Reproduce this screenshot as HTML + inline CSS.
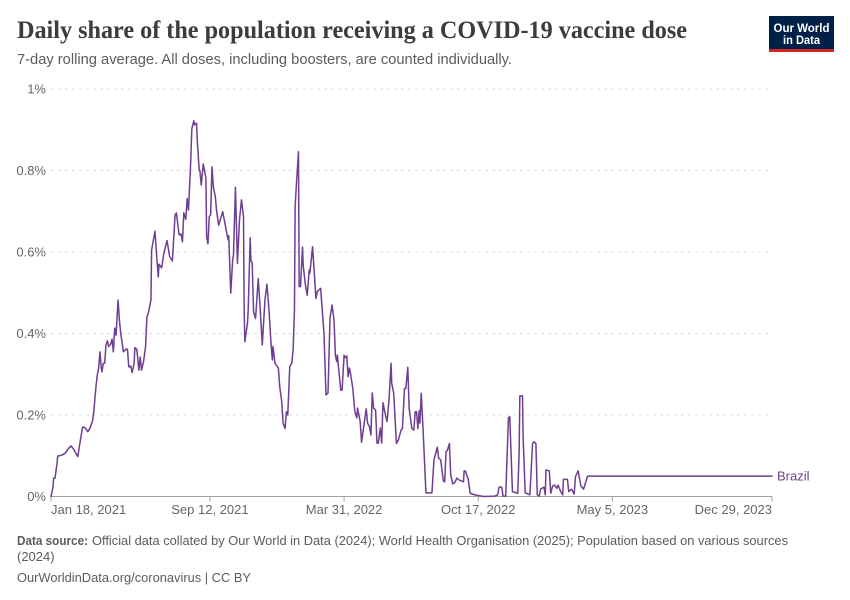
<!DOCTYPE html>
<html lang="en">
<head>
<meta charset="utf-8">
<title>Daily share of the population receiving a COVID-19 vaccine dose</title>
<style>
html,body{margin:0;padding:0;background:#fff;}
svg{display:block;font-family:"Liberation Sans",sans-serif;}
</style>
</head>
<body>
<svg id="chart" xmlns="http://www.w3.org/2000/svg" width="850" height="600" viewBox="0 0 850 600">
  <rect x="0" y="0" width="850" height="600" fill="#ffffff"/>
  <text x="17" y="38" font-family="'Liberation Serif',serif" font-weight="700" font-size="25" fill="#3c3c3c" textLength="670" lengthAdjust="spacingAndGlyphs">Daily share of the population receiving a COVID-19 vaccine dose</text>
  <text x="17" y="64" font-size="14.5" fill="#5b5b5b" textLength="495" lengthAdjust="spacingAndGlyphs">7-day rolling average. All doses, including boosters, are counted individually.</text>

  <g>
    <rect x="769" y="16" width="65" height="36" fill="#002147"/>
    <rect x="769" y="49" width="65" height="3" fill="#ce261e"/>
    <text x="801.5" y="32" font-size="12" font-weight="700" fill="#ffffff" text-anchor="middle" textLength="56" lengthAdjust="spacingAndGlyphs">Our World</text>
    <text x="801.5" y="44" font-size="12" font-weight="700" fill="#ffffff" text-anchor="middle" textLength="37" lengthAdjust="spacingAndGlyphs">in Data</text>
  </g>

  <g id="grid"></g>
  <g id="y-axis"></g>
  <g id="x-axis"></g>
  <path id="series-line" fill="none" stroke="#6d3e91" stroke-width="1.5" stroke-linejoin="round" stroke-linecap="round"></path>
  <text id="series-label" x="777" y="481" font-size="13" fill="#6d3e91">Brazil</text>

  <text x="17" y="545" font-size="13" font-weight="700" fill="#5b5b5b" textLength="71" lengthAdjust="spacingAndGlyphs">Data source:</text>
  <text x="92" y="545" font-size="13" fill="#5b5b5b" textLength="696" lengthAdjust="spacingAndGlyphs">Official data collated by Our World in Data (2024); World Health Organisation (2025); Population based on various sources</text>
  <text x="17" y="561" font-size="13" fill="#5b5b5b">(2024)</text>
  <text x="17" y="582" font-size="13" fill="#5b5b5b" textLength="234" lengthAdjust="spacingAndGlyphs">OurWorldinData.org/coronavirus | CC BY</text>
</svg>
<script>
// Days since Jan 18, 2021
const seriesDays = [0,3,4,6,9,10,17,21,26,30,33,40,43,47,50,55,58,62,64,67,69,71,73,75,76,78,80,82,84,86,89,91,93,95,97,100,102,104,108,112,114,116,119,121,124,125,128,131,133,135,138,141,143,145,149,150,155,158,160,161,165,168,173,177,181,185,187,191,194,196,198,201,203,205,208,210,213,214,217,218,221,222,224,227,231,232,234,236,238,240,242,245,247,250,256,261,264,265,268,271,272,275,278,281,284,287,288,289,293,294,297,298,300,302,305,309,312,315,319,322,325,328,330,331,334,339,341,344,346,349,351,353,356,359,361,363,364,366,369,370,372,375,376,379,382,385,386,390,395,397,402,405,407,410,413,416,419,422,424,426,427,432,434,437,438,441,443,445,447,450,453,456,457,461,463,467,470,472,475,477,479,481,484,486,488,491,493,495,498,501,504,507,508,511,515,518,522,524,527,529,532,534,538,541,543,545,547,549,550,552,555,559,568,571,576,578,581,585,587,589,591,594,596,599,602,605,609,615,616,618,622,625,632,645,662,666,668,672,674,678,682,684,688,696,698,699,703,704,707,714,718,720,723,725,728,730,735,737,738,743,745,748,751,754,756,760,763,764,770,772,776,780,782,786,790,794,800,1075];
// Daily doses, % of population
const seriesValues = [0,0.024,0.045,0.045,0.082,0.099,0.102,0.106,0.118,0.124,0.118,0.098,0.13,0.17,0.17,0.159,0.167,0.186,0.212,0.269,0.298,0.315,0.355,0.315,0.306,0.327,0.327,0.372,0.382,0.368,0.374,0.386,0.355,0.413,0.396,0.482,0.433,0.4,0.355,0.362,0.361,0.318,0.32,0.304,0.327,0.365,0.361,0.31,0.342,0.31,0.331,0.368,0.441,0.449,0.482,0.605,0.651,0.58,0.539,0.57,0.561,0.595,0.628,0.588,0.578,0.691,0.696,0.642,0.644,0.625,0.696,0.68,0.731,0.703,0.809,0.903,0.922,0.912,0.916,0.877,0.8,0.8,0.764,0.816,0.781,0.638,0.62,0.687,0.691,0.809,0.76,0.736,0.699,0.666,0.699,0.656,0.63,0.64,0.499,0.585,0.59,0.759,0.572,0.678,0.728,0.687,0.458,0.38,0.426,0.458,0.635,0.58,0.573,0.453,0.437,0.535,0.458,0.372,0.482,0.521,0.458,0.376,0.335,0.368,0.327,0.315,0.27,0.233,0.18,0.167,0.208,0.2,0.319,0.327,0.36,0.458,0.711,0.769,0.846,0.515,0.515,0.612,0.568,0.523,0.494,0.556,0.548,0.613,0.486,0.503,0.511,0.445,0.401,0.249,0.254,0.438,0.47,0.433,0.347,0.331,0.347,0.261,0.261,0.347,0.34,0.345,0.294,0.315,0.298,0.265,0.208,0.193,0.217,0.184,0.133,0.18,0.215,0.18,0.171,0.151,0.254,0.217,0.212,0.131,0.131,0.168,0.131,0.23,0.205,0.184,0.237,0.327,0.278,0.253,0.13,0.139,0.163,0.167,0.265,0.265,0.317,0.216,0.167,0.163,0.208,0.208,0.167,0.21,0.18,0.253,0.155,0.009,0.009,0.09,0.121,0.094,0.09,0.038,0.036,0.11,0.113,0.13,0.053,0.031,0.034,0.045,0.04,0.036,0.063,0.062,0.043,0.008,0.004,0,0.001,0.004,0.023,0.023,0.001,0.001,0.193,0.196,0.012,0.008,0.11,0.247,0.247,0.143,0.009,0.004,0.13,0.134,0.13,0.004,0.001,0.018,0.023,0.004,0.065,0.063,0.008,0.026,0.028,0.02,0.028,0.012,0.004,0.042,0.042,0.012,0.018,0.006,0.049,0.063,0.026,0.018,0.05,0.05];
const yTickValues = [0,0.2,0.4,0.6,0.8,1];
const yTickLabels = ["0%","0.2%","0.4%","0.6%","0.8%","1%"];
const xTickDays = [0,237,437,637,837,1075];
const xTickLabels = ["Jan 18, 2021","Sep 12, 2021","Mar 31, 2022","Oct 17, 2022","May 5, 2023","Dec 29, 2023"];

const SVG_NS = "http://www.w3.org/2000/svg";
const plot = {left:51, right:772, top:89, bottom:496.5};
const maxDay = 1075, maxValue = 1;
function xScale(day){ return plot.left + (day / maxDay) * (plot.right - plot.left); }
function yScale(v){ return plot.bottom - (v / maxValue) * (plot.bottom - plot.top); }
function make(tag, attrs, text){
  const el = document.createElementNS(SVG_NS, tag);
  for (const k in attrs) el.setAttribute(k, attrs[k]);
  if (text !== undefined) el.textContent = text;
  return el;
}

const grid = document.getElementById("grid");
const yAxis = document.getElementById("y-axis");
const xAxis = document.getElementById("x-axis");

yTickValues.forEach(function(v, i){
  const y = yScale(v);
  if (v !== 0) {
    const line = make("line", {x1:plot.left, x2:plot.right, y1:y, y2:y, stroke:"#dddddd", "stroke-width":1, "stroke-dasharray":"3,4"});
    
    
    grid.appendChild(line);
  }
  const label = make("text", {x:46, y:y + 4.5, "font-size":13, fill:"#666666", "text-anchor":"end"}, yTickLabels[i]);
  
  
  yAxis.appendChild(label);
});

const axisLine = make("line", {x1:plot.left, x2:plot.right, y1:plot.bottom, y2:plot.bottom, stroke:"#a1a1a1", "stroke-width":1});


xAxis.appendChild(axisLine);

xTickDays.forEach(function(d, i){
  const x = xScale(d);
  const tick = make("line", {x1:x, x2:x, y1:plot.bottom, y2:plot.bottom + 5, stroke:"#a1a1a1", "stroke-width":1});
  
  
  xAxis.appendChild(tick);
  const anchor = i === 0 ? "start" : (i === xTickDays.length - 1 ? "end" : "middle");
  const label = make("text", {x:x, y:514, "font-size":13, fill:"#666666", "text-anchor":anchor}, xTickLabels[i]);
  
  
  xAxis.appendChild(label);
});

const pathData = seriesDays.map(function(d, i){
  return (i === 0 ? "M" : "L") + xScale(d).toFixed(2) + " " + yScale(seriesValues[i]).toFixed(2);
}).join(" ");
document.getElementById("series-line").setAttribute("d", pathData);
document.getElementById("series-label").setAttribute("y", (yScale(seriesValues[seriesValues.length - 1]) + 4.5).toFixed(2));
</script>
</body>
</html>
